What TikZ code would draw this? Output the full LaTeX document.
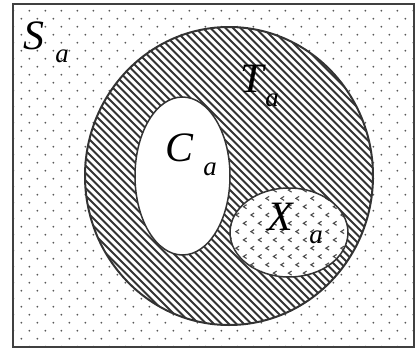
\documentclass[tikz,border=0pt]{standalone}
\usepackage{fontspec}
\setmainfont{Liberation Serif}
\tikzset{
  outline/.style={draw=black!80,line width=1.5bp},
  dotmark/.style={fill=black!65},
  hatchline/.style={draw=black!80,line width=1.9bp},
  chevmark/.style={draw=black!70,line width=1.1bp},
  bigl/.style={font=\fontsize{42}{42}\selectfont\itshape,inner sep=0pt},
  subl/.style={font=\fontsize{27}{27}\selectfont\itshape,inner sep=0pt}
}
\begin{document}
\begin{tikzpicture}[x=1bp,y=-1bp]
\useasboundingbox (0,0) rectangle (416,350);
% universe dots (staggered lattice)
\begin{scope}
\clip (13,4) rectangle (414,347);
\foreach \j in {0,...,42}{
  \pgfmathsetmacro\yy{10.7+8*\j}
  \pgfmathsetmacro\xs{13.3+8*mod(\j,2)}
  \foreach \i in {0,...,25}
    \fill[dotmark] (\xs+16*\i,\yy) circle[radius=1];
}
\end{scope}
\draw[draw=black!75,line width=1.5bp] (13,4) rectangle (414,347);
% T circle
\fill[white] (229,176) ellipse [x radius=144,y radius=149];
\begin{scope}
\clip (229,176) ellipse [x radius=144,y radius=149];
\foreach \s in {-240,-232.5,...,460}
  \draw[hatchline] (\s,20) -- (\s+320,340);
\end{scope}
\draw[outline,line width=2bp] (229,176) ellipse [x radius=144,y radius=149];
% C ellipse
\fill[white] (182.5,176) ellipse [x radius=47.5,y radius=79];
\draw[outline] (182.5,176) ellipse [x radius=47.5,y radius=79];
% X ellipse
\fill[white] (289,232.5) ellipse [x radius=59,y radius=44.5];
\begin{scope}
\clip (289,232.5) ellipse [x radius=59,y radius=44.5];
\foreach \k in {0,...,12}{
  \pgfmathsetmacro\cy{181.8+8.3*\k}
  \pgfmathsetmacro\cs{237.5+7.5*mod(\k,2)}
  \foreach \i in {-1,...,8}
    \draw[chevmark] (\cs+15*\i+1.6,\cy-2) -- (\cs+15*\i-1.6,\cy) -- (\cs+15*\i+1.6,\cy+2);
}
\end{scope}
\draw[outline] (289,232.5) ellipse [x radius=59,y radius=44.5];
% labels
\node[bigl] (lS) at (34,36) {S};
\node[subl] (lSa) at (62,56) {a};
\node[bigl] (lT) at (252,79) {T};
\node[subl] (lTa) at (272,100) {a};
\node[bigl] (lC) at (179,148) {C};
\node[subl] (lCa) at (210,169) {a};
\node[bigl] (lX) at (280,217) {X};
\node[subl] (lXa) at (316,237) {a};
\end{tikzpicture}
\end{document}
